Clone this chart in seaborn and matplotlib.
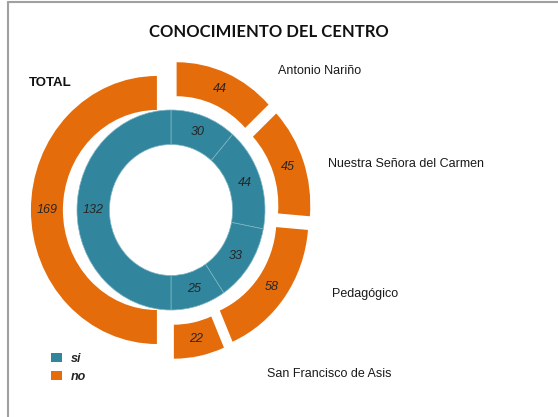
import matplotlib
matplotlib.use("Agg")
import matplotlib.pyplot as plt
from matplotlib.lines import Line2D
from matplotlib.patches import Patch
import seaborn as sns

# ---- data ----
title = "CONOCIMIENTO DEL CENTRO"
centros = ["Antonio Nariño", "Nuestra Señora del Carmen", "Pedagógico", "San Francisco de Asis"]
si_vals = [30, 44, 33, 25]
no_vals = [44, 45, 58, 22]
total_si = 132
total_no = 169
legend_labels = ["si", "no"]

sns.set_theme(style="white")
plt.rcParams['font.family'] = ['Liberation Sans', 'DejaVu Sans']
colors = sns.color_palette(["#31859C", "#E46C0A"])
teal, orange = colors[0], colors[1]

W, H = 558, 417
fig = plt.figure(figsize=(W / 100, H / 100), dpi=100)
fig.patch.set_facecolor("white")
ax = fig.add_axes([0, 0, 1, 1])

cx, cy = 171, 210       # pie centre in pixels
sx, sy = 94.0, 100.0    # px per unit horizontally / vertically

inner_vals = si_vals + [total_si]
outer_vals = no_vals + [total_no]

r_in_out, r_in_hole = 1.0, 0.655
r_out_out = 1.34
ring_w_out = r_out_out - 1.0
expl = 0.15

num_props = dict(fontsize=9, style="italic", color="#262626")

w_in, t_in = ax.pie(inner_vals, labels=[str(v) for v in inner_vals],
                    radius=r_in_out, startangle=90, counterclock=False,
                    colors=[teal] * len(inner_vals),
                    labeldistance=(r_in_out + r_in_hole) / 2 / r_in_out,
                    wedgeprops=dict(width=r_in_out - r_in_hole, edgecolor="#7fb6c4", linewidth=0.5),
                    textprops=num_props)
w_out, t_out = ax.pie(outer_vals, labels=[str(v) for v in outer_vals],
                      radius=r_out_out, startangle=90, counterclock=False,
                      colors=[orange] * len(outer_vals),
                      explode=[expl] * len(outer_vals),
                      labeldistance=(r_out_out + 1.0) / 2 / r_out_out,
                      wedgeprops=dict(width=ring_w_out, edgecolor="none", linewidth=0),
                      textprops=num_props)
for t in list(t_in) + list(t_out):
    t.set_ha("center")
    t.set_va("center")

ax.set_aspect("auto")
ax.set_xlim(-cx / sx, (W - cx) / sx)
ax.set_ylim(-(H - cy) / sy, cy / sy)
ax.axis("off")

# title
fig.text(269 / W, 1 - 32 / H, title, ha="center", va="center",
         fontsize=12, fontweight="bold", family=["Lato", "DejaVu Sans"], color="#111111")
# TOTAL label
fig.text(29 / W, 1 - 83 / H, "TOTAL", ha="left", va="center",
         fontsize=9.5, fontweight="bold", color="#111111")

# category labels
label_pos = [(278, 71), (328, 164), (332, 294), (267, 374)]
for name, (px, py) in zip(centros, label_pos):
    fig.text(px / W, 1 - py / H, name, ha="left", va="center",
             fontsize=9, color="#1a1a1a")

# legend
handles = [Patch(facecolor=teal, edgecolor="none"), Patch(facecolor=orange, edgecolor="none")]
leg = fig.legend(handles, legend_labels, loc="upper left",
                 bbox_to_anchor=(51 / W, 1 - 353 / H), frameon=False,
                 borderpad=0, borderaxespad=0, handlelength=0.85, handleheight=0.75,
                 handletextpad=0.75, labelspacing=0.45,
                 prop=dict(size=9, weight="bold", style="italic"))

# partial chart border (top and left)
fig.add_artist(Line2D([8 / W, 1.0], [1 - 1.5 / H, 1 - 1.5 / H], color="#a0a0a0", lw=1.5,
                      transform=fig.transFigure))
fig.add_artist(Line2D([8 / W, 8 / W], [0, 1 - 1.5 / H], color="#a0a0a0", lw=1.5,
                      transform=fig.transFigure))

fig.savefig("out.png", dpi=100)
